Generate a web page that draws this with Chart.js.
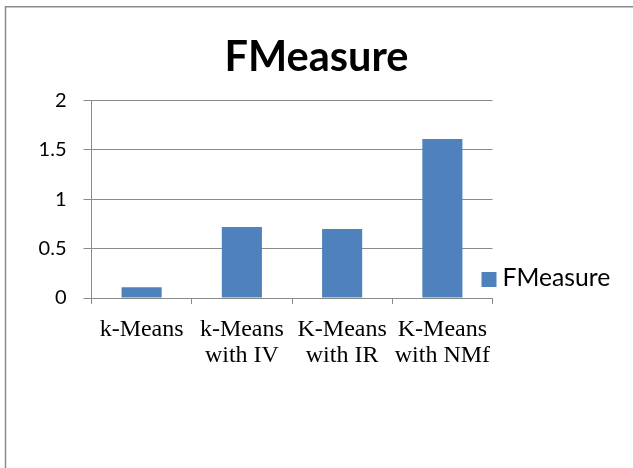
<!DOCTYPE html>
<html>
<head>
<meta charset="utf-8">
<script src="https://cdn.jsdelivr.net/npm/chart.js@4"></script>
<style>
  html, body { margin: 0; padding: 0; background: #fff; }
  #wrap { position: relative; width: 633px; height: 468px; }
</style>
</head>
<body>
<div id="wrap"><canvas id="c" width="633" height="468"></canvas></div>
<script>
// Chart content
const chartTitle = 'FMeasure';
const seriesName = 'FMeasure';
const categories = [
  ['k-Means'],
  ['k-Means', 'with IV'],
  ['K-Means', 'with IR'],
  ['K-Means', 'with NMf']
];
const fmeasureValues = [0.11, 0.72, 0.70, 1.61];
const yTickLabels = ['0', '0.5', '1', '1.5', '2'];

const barColor = '#4F81BD';
const axisGray = '#8a8a8a';
const sansFont = 'Lato, "Open Sans", sans-serif';
const serifFont = '"Liberation Serif", "DejaVu Serif", serif';

// Frame, title and legend drawn around the plot
const decorations = {
  id: 'decorations',
  beforeDraw(chart) {
    const ctx = chart.ctx;
    ctx.save();
    ctx.strokeStyle = '#8c8c8c';
    ctx.lineWidth = 1.5;
    ctx.beginPath();
    ctx.moveTo(5.5, 468);
    ctx.lineTo(5.5, 6.75);
    ctx.lineTo(633, 6.75);
    ctx.stroke();
    ctx.restore();
  },
  afterDraw(chart) {
    const ctx = chart.ctx;
    const area = chart.chartArea;
    ctx.save();
    // title
    ctx.fillStyle = '#000';
    ctx.font = 'bold 41.5px ' + sansFont;
    ctx.textAlign = 'center';
    ctx.textBaseline = 'alphabetic';
    ctx.fillText(chartTitle, chart.width / 2, 70.5);
    // legend
    const ds = chart.data.datasets[0];
    ctx.fillStyle = ds.backgroundColor;
    ctx.fillRect(area.right - 11, area.bottom - 26, 15, 15);
    ctx.fillStyle = '#000';
    ctx.font = '24.7px ' + sansFont;
    ctx.textAlign = 'left';
    ctx.fillText(ds.label, area.right + 10, area.bottom - 12);
    ctx.restore();
  }
};

new Chart(document.getElementById('c'), {
  type: 'bar',
  data: {
    labels: categories,
    datasets: [{
      label: seriesName,
      data: fmeasureValues,
      backgroundColor: barColor,
      borderWidth: 0,
      categoryPercentage: 1.0,
      barPercentage: 0.4
    }]
  },
  options: {
    responsive: false,
    animation: false,
    events: [],
    layout: { padding: { top: 100.5, left: 0, right: 140.5, bottom: 70 } },
    plugins: {
      legend: { display: false },
      title: { display: false },
      tooltip: { enabled: false }
    },
    scales: {
      x: {
        afterFit(scale) { scale.height = 100; },
        grid: {
          offset: true,
          drawOnChartArea: false,
          drawTicks: true,
          tickLength: 6,
          color: axisGray,
          lineWidth: 1
        },
        border: { display: true, color: axisGray, width: 1 },
        ticks: {
          color: '#000',
          padding: 12,
          maxRotation: 0,
          autoSkip: false,
          font: { family: serifFont, size: 24, lineHeight: 1.11 }
        }
      },
      y: {
        min: 0,
        max: 2,
        afterFit(scale) { scale.width = 91.5; },
        grid: {
          drawTicks: true,
          tickLength: 8,
          color: axisGray,
          lineWidth: 1
        },
        border: { display: true, color: axisGray, width: 1 },
        ticks: {
          stepSize: 0.5,
          padding: 17,
          color: '#000',
          font: { family: sansFont, size: 20 },
          callback: (v, i) => yTickLabels[i]
        }
      }
    }
  },
  plugins: [decorations]
});
</script>
</body>
</html>
